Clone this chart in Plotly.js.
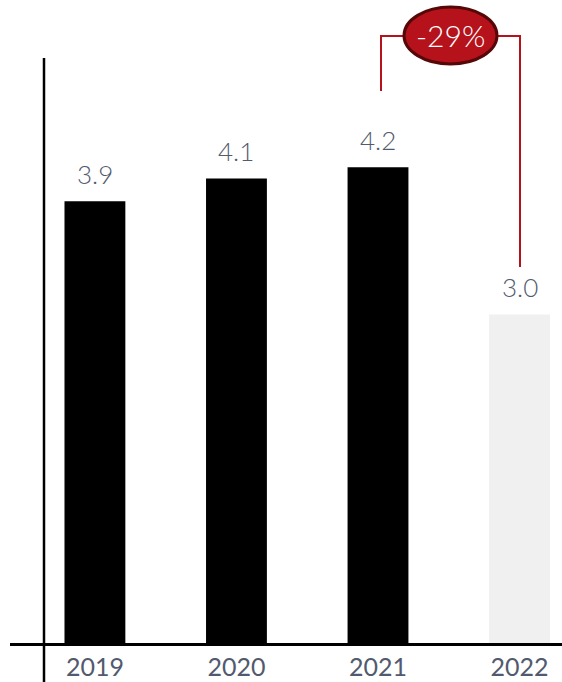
<!DOCTYPE html>
<html>
<head>
<meta charset="utf-8">
<script src="https://cdn.plot.ly/plotly-3.0.1.min.js"></script>
<style>
  html, body { margin: 0; padding: 0; background: #ffffff; }
  #chart { width: 562px; height: 682px; }
</style>
</head>
<body>
<div id="chart"></div>
<script>
const years = ["2019", "2020", "2021", "2022"];
const values = [3.9, 4.1, 4.2, 2.9];
const valueLabels = ["3.9", "4.1", "4.2", "3.0"];
const barColors = ["#000000", "#000000", "#000000", "#f0f0f0"];
const changeLabel = "-29%";

const W = 562, H = 682;
const M = { l: 10, r: 0, t: 0, b: 39 };
const PW = W - M.l - M.r, PH = H - M.t - M.b;
const px = x => (x - M.l) / PW;
const py = y => (H - M.b - y) / PH;

const red = "#b5121b";
const labelColor = "#525a6e";
const fontFam = "Lato, 'Open Sans', sans-serif";

const trace = {
  type: "bar",
  x: years,
  y: values,
  marker: { color: barColors, line: { width: 0 } },
  hoverinfo: "skip"
};

const annotations = years.map((yr, i) => ({
  x: i, y: values[i], xref: "x", yref: "y",
  text: valueLabels[i], showarrow: false,
  xanchor: "center", yanchor: "bottom", yshift: 9,
  font: { family: fontFam, size: 26, color: labelColor, weight: 300 }
}));
annotations.push({
  x: px(450), y: py(35), xref: "paper", yref: "paper",
  text: changeLabel, showarrow: false,
  xanchor: "center", yanchor: "middle",
  font: { family: fontFam, size: 30, color: "#ffffff", weight: 300 }
});

const shapes = [
  { type: "line", xref: "paper", yref: "paper", x0: px(44), x1: px(44), y0: py(58), y1: py(682),
    line: { color: "#000000", width: 2.5 } },
  { type: "line", xref: "paper", yref: "paper", x0: px(381), x1: px(381), y0: py(36), y1: py(91),
    line: { color: red, width: 2 } },
  { type: "line", xref: "paper", yref: "paper", x0: px(380), x1: px(410), y0: py(36), y1: py(36),
    line: { color: red, width: 2 } },
  { type: "line", xref: "paper", yref: "paper", x0: px(490), x1: px(521), y0: py(36), y1: py(36),
    line: { color: red, width: 2 } },
  { type: "line", xref: "paper", yref: "paper", x0: px(520), x1: px(520), y0: py(35), y1: py(267),
    line: { color: red, width: 2 } },
  { type: "circle", xref: "paper", yref: "paper", x0: px(404), x1: px(497), y0: py(7), y1: py(64),
    fillcolor: red, line: { color: "#560808", width: 3 } }
];

const layout = {
  width: W, height: H,
  margin: M,
  paper_bgcolor: "#ffffff",
  plot_bgcolor: "#ffffff",
  showlegend: false,
  bargap: 0.57,
  xaxis: {
    type: "category",
    range: [-0.6, 3.3],
    showline: true, linecolor: "#000000", linewidth: 2.5,
    showgrid: false, zeroline: false,
    ticks: "", ticklabelstandoff: 0,
    tickfont: { family: fontFam, size: 25, color: labelColor, weight: 400 },
    fixedrange: true
  },
  yaxis: {
    range: [0, PH / 113.3],
    showline: false, showgrid: false, zeroline: false,
    showticklabels: false, ticks: "",
    fixedrange: true
  },
  annotations: annotations,
  shapes: shapes
};

Plotly.newPlot("chart", [trace], layout, { displayModeBar: false, staticPlot: true });
</script>
</body>
</html>
